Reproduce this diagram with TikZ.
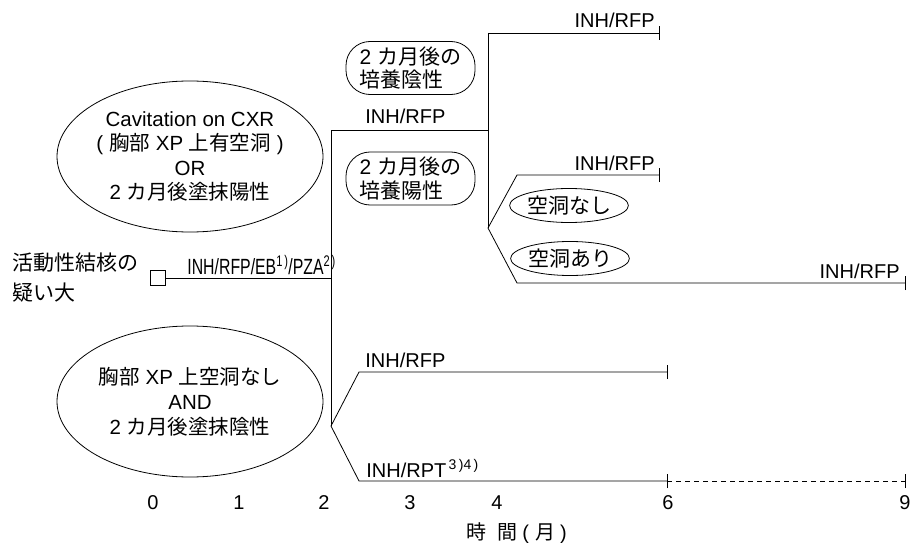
\documentclass[tikz,border=0pt]{standalone}
\usepackage{fontspec}
\setmainfont{Liberation Sans}
\newfontfamily\jp{Noto Sans CJK JP}
\usetikzlibrary{shapes.geometric}
\begin{document}
\begin{tikzpicture}[x=1pt,y=-1pt,
  line width=0.8pt,
  txt/.style={inner sep=0pt,font=\fontsize{20}{24}\selectfont},
  bigell/.style={draw,ellipse,inner sep=0pt,minimum width=266pt,minimum height=151pt,align=center},
  smallell/.style={draw,ellipse,inner sep=0pt,minimum width=112pt,minimum height=34pt,font=\fontsize{21}{24}\selectfont},
  rbox/.style={draw,rounded corners=24pt,inner sep=0pt,minimum width=129pt,minimum height=53pt,align=left,font=\fontsize{21}{23.5}\selectfont},
  tick/.style={line width=0.8pt},
]
\useasboundingbox (0,0) rectangle (911,543);

% left label and square
\node[txt,anchor=west,align=left,font=\fontsize{21}{30}\selectfont] (start) at (12,278) {{\jp 活動性結核の}\\{\jp 疑い大}};
\node[draw,inner sep=0pt,minimum size=15pt,line width=0.7pt] (sq) at (157.5,278) {};

% ellipses
\node[bigell,font=\fontsize{20.5}{24.3}\selectfont] (e1) at (190,156.5) {Cavitation on CXR\\(\hspace{6pt}{\jp 胸部} XP {\jp 上有空洞}\hspace{6pt})\\OR\\2 {\jp カ月後塗抹陽性}};
\node[bigell,font=\fontsize{20.5}{25}\selectfont] (e2) at (190,401.5) {{\jp 胸部} XP {\jp 上空洞なし}\\AND\\2 {\jp カ月後塗抹陰性}};

% rounded boxes
\node[rbox] (r1) at (410.5,68) {2 {\jp カ月後の}\\{\jp 培養陰性}};
\node[rbox] (r2) at (410.5,178.5) {2 {\jp カ月後の}\\{\jp 培養陽性}};

% small ellipses
\node[smallell] (s1) at (569,205.5) {{\jp 空洞なし}};
\node[smallell] (s2) at (570,258.5) {{\jp 空洞あり}};

% coordinates
\coordinate (a1) at (331,130);
\coordinate (a2) at (488,130);
\coordinate (b0) at (331,278);
\coordinate (c0) at (331,426);
\coordinate (d0) at (488,33);
\coordinate (t0) at (659,33);
\coordinate (d1) at (488,228);
\coordinate (eu) at (517,175);
\coordinate (eue) at (659,175);
\coordinate (el) at (517,283);
\coordinate (ele) at (905,283);
\coordinate (fu) at (359,372);
\coordinate (fue) at (667,372);
\coordinate (fl) at (359,481);
\coordinate (flm) at (667,481);
\coordinate (fle) at (905,481);

% connectors
\draw (sq.east) -- (b0);
\draw (a1) -- (c0);
\draw (a1) -- (a2);
\draw (d0) -- (d1);
\draw (d0) -- (t0);
\draw (d1) -- (eu) -- (eue);
\draw (d1) -- (el) -- (ele);
\draw (c0) -- (fu) -- (fue);
\draw (c0) -- (fl) -- (flm);
\draw[dash pattern=on 5pt off 4pt] (flm) -- (fle);

% ticks
\foreach \p in {t0,eue,ele,fue,flm,fle}
  \draw[tick] ([yshift=-7pt]\p) -- ([yshift=7pt]\p);

% labels
\node[txt,anchor=south west] (l0) at (187,275) {\scalebox{0.72}[1]{\fontsize{22}{24}\selectfont INH/RFP/EB\textsuperscript{1\,)}/PZA\textsuperscript{2\,)}}};
\node[txt,anchor=base west] (l1) at (365,124) {INH/RFP};
\node[txt,anchor=base east] (l2) at (655,28) {INH/RFP};
\node[txt,anchor=base east] (l3) at (655,170) {INH/RFP};
\node[txt,anchor=base east] (l4) at (900,278) {INH/RFP};
\node[txt,anchor=base west] (l5) at (365,367) {INH/RFP};
\node[txt,anchor=base west] (l6) at (366,477) {INH/RPT\textsuperscript{\,3\,)4\,)}};

% axis
\node[txt] (x0) at (153,503) {0};
\node[txt] (x1) at (239,503) {1};
\node[txt] (x2) at (324,503) {2};
\node[txt] (x3) at (410,503) {3};
\node[txt] (x4) at (497,503) {4};
\node[txt] (x6) at (668,503) {6};
\node[txt] (x9) at (905,503) {9};
\node[txt,anchor=west] (xt) at (466,533) {{\jp 時}\hspace{11pt}{\jp 間}\hspace{5pt}(\hspace{6pt}{\jp 月}\hspace{5pt})};
\end{tikzpicture}
\end{document}
